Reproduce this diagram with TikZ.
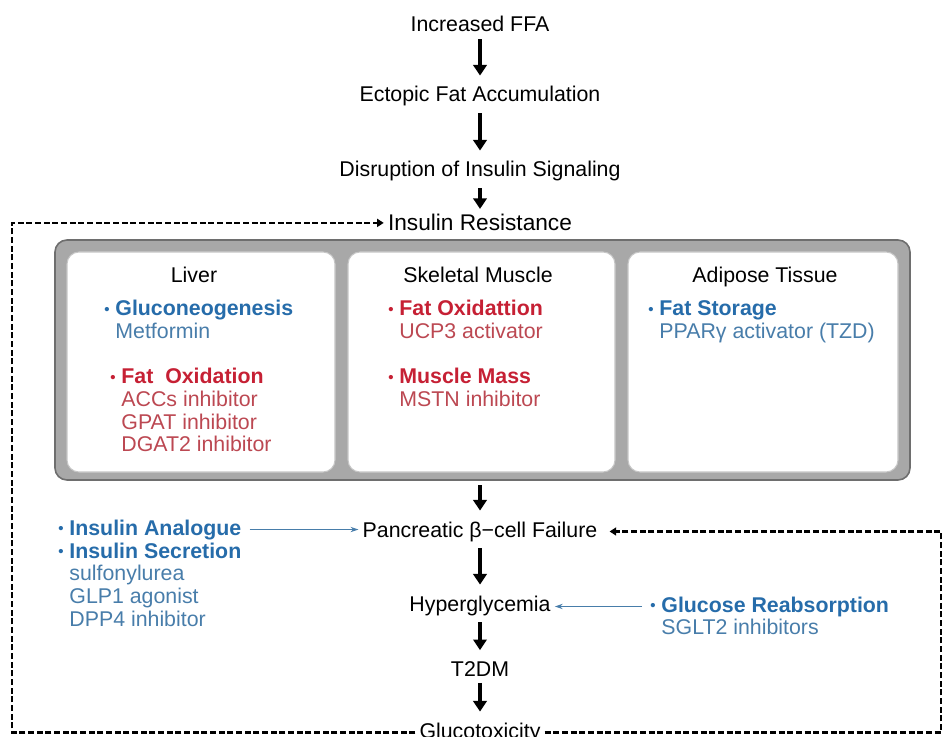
\documentclass[tikz,border=0pt]{standalone}
\usepackage{fontspec}
\setmainfont{Liberation Sans}
\usepackage{graphicx}
\usetikzlibrary{arrows.meta,positioning}

\definecolor{hdblue}{RGB}{38,108,170}
\definecolor{drblue}{RGB}{72,125,170}
\definecolor{hdred}{RGB}{198,32,52}
\definecolor{drred}{RGB}{188,72,82}
\definecolor{bandgray}{RGB}{168,168,168}
\definecolor{bandedge}{RGB}{110,110,110}

\newcommand{\bul}{\raisebox{0.15ex}{\scalebox{0.7}{\textbullet}}\ }
\newcommand{\hd}[2]{\textcolor{#1}{\textbf{\bul #2}}}
\newcommand{\dr}[2]{\textcolor{#1}{\phantom{\textbf{\bul}}#2}}
\newcommand{\lines}[1]{\begin{tabular}[t]{@{}l@{}}#1\end{tabular}}

\begin{document}
\begin{tikzpicture}[x=0.75pt,y=0.75pt,font=\fontsize{16}{17}\selectfont,
  stage/.style={inner sep=3pt,anchor=base},
  bigarrow/.style={-{Triangle[width=10pt,length=8pt]},line width=2.8pt,shorten <=2pt,shorten >=5pt},
  loopline/.style={line width=1.8pt,dash pattern=on 4.5pt off 2pt},
  looptip/.style={-{Triangle[width=6pt,length=5pt]}},
  thinarrow/.style={-{Stealth[length=6pt,width=4pt]},drblue,line width=0.7pt,shorten <=6pt},
  organbox/.style={draw=gray!45,fill=white,rounded corners=9pt,line width=0.8pt},
  list/.style={anchor=base west,inner sep=0pt}]
\useasboundingbox (0,0) rectangle (945,-737);

% pathway
\node[stage] (ffa) at (480,-32) {Increased FFA};
\node[stage] (ectopic) at (480,-102) {Ectopic Fat Accumulation};
\node[stage] (disrupt) at (480,-177) {Disruption of Insulin Signaling};
\node[stage,font=\fontsize{17}{18}\selectfont] (ir) at (480,-231) {Insulin Resistance};
\node[stage] (beta) at (480,-537) {Pancreatic β−cell Failure};
\node[stage] (hyper) at (480,-611) {Hyperglycemia};
\node[stage] (t2dm) at (480,-676) {T2DM};
\node[stage] (gluco) at (480,-738) {Glucotoxicity};

% organs
\draw[fill=bandgray,draw=bandedge,line width=1.2pt,rounded corners=9pt] (55,-240) rectangle (910,-480);
\draw[organbox] (67,-252) rectangle (335,-472);
\draw[organbox] (348,-252) rectangle (615,-472);
\draw[organbox] (628,-252) rectangle (898,-472);
\coordinate (bandbot) at (480,-480);

\node[anchor=base] (liver) at (194,-283) {Liver};
\node[anchor=base] (muscle) at (478,-283) {Skeletal Muscle};
\node[anchor=base] (adipose) at (765,-283) {Adipose Tissue};

\node[list] (liverA) at (104,-316) {\lines{\hd{hdblue}{Gluconeogenesis}\\\dr{drblue}{Metformin}}};
\node[list] (liverB) at (110,-384) {\lines{\hd{hdred}{Fat\ \ Oxidation}\\\dr{drred}{ACCs inhibitor}\\\dr{drred}{GPAT inhibitor}\\\dr{drred}{DGAT2 inhibitor}}};
\node[list] (muscleA) at (388,-316) {\lines{\hd{hdred}{Fat Oxidattion}\\\dr{drred}{UCP3 activator}}};
\node[list] (muscleB) at (388,-384) {\lines{\hd{hdred}{Muscle Mass}\\\dr{drred}{MSTN inhibitor}}};
\node[list] (adiposeA) at (648,-316) {\lines{\hd{hdblue}{Fat Storage}\\\dr{drblue}{PPARγ activator (TZD)}}};

% drugs at the side
\node[list] (insana) at (58,-535) {\hd{hdblue}{Insulin Analogue}};
\node[list] (inssec) at (58,-558) {\lines{\hd{hdblue}{Insulin Secretion}\\\dr{drblue}{sulfonylurea}\\\dr{drblue}{GLP1 agonist}\\\dr{drblue}{DPP4 inhibitor}}};
\node[list] (reab) at (650,-612) {\hd{hdblue}{Glucose Reabsorption}};
\node[list] (sglt) at (650,-634) {\dr{drblue}{SGLT2 inhibitors}};

% arrows
\draw[bigarrow] (ffa) -- (ectopic);
\draw[bigarrow] (ectopic) -- (disrupt);
\draw[bigarrow,shorten >=1pt] (disrupt) -- (ir);
\draw[bigarrow,shorten <=4pt] (bandbot) -- (beta);
\draw[bigarrow] (beta) -- (hyper);
\draw[bigarrow] (hyper) -- (t2dm);
\draw[bigarrow] (t2dm) -- (gluco);
\draw[thinarrow] (insana.east) -- (insana.east -| beta.west);
\draw[thinarrow] (reab.west) -- (reab.west -| hyper.east);

% feedback loops
\coordinate (lside) at (12,-731);
\coordinate (rside) at (941,-731);
\draw[loopline,looptip] (gluco.west) -| (ir.west -| lside) -- (ir.west);
\draw[loopline,looptip,shorten >=6pt] (gluco.east) -| (beta.east -| rside) -- (beta.east);
\end{tikzpicture}
\end{document}
